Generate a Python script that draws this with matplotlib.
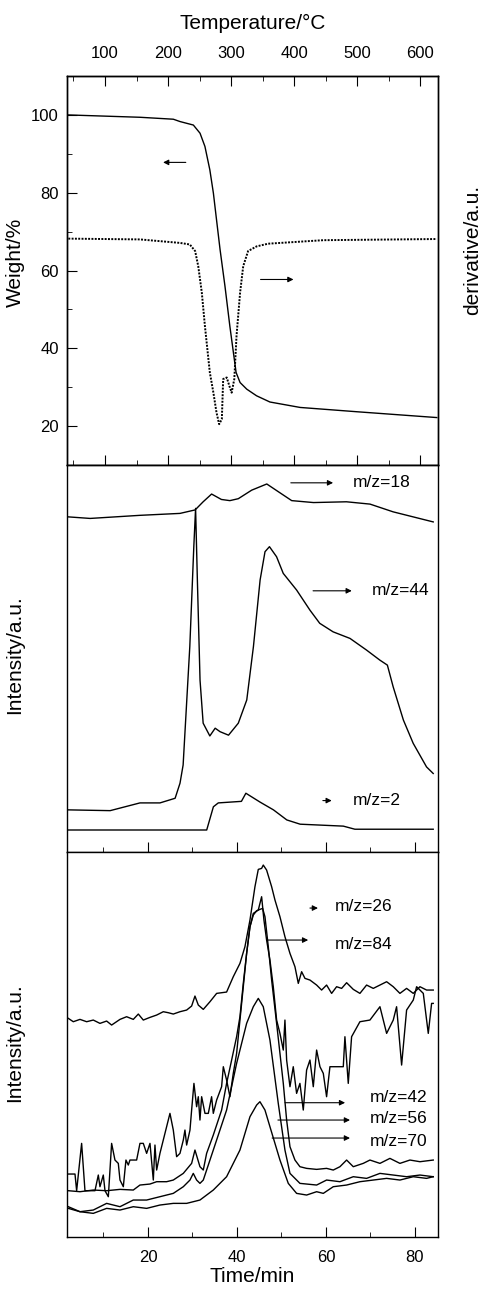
import matplotlib
matplotlib.use("Agg")
import matplotlib.pyplot as plt
from matplotlib.ticker import MultipleLocator, FixedLocator

plt.rcParams['font.family'] = ['Liberation Sans', 'DejaVu Sans']

# ---- TG / DTG (top panel) ----
t_w = [2.1, 18.2, 25.7, 27.2, 30.2, 31.7, 32.8, 33.9, 34.7, 35.4, 36.2, 37.3, 38.4, 39.2, 39.8, 40.7, 42.2, 44.4,
       47.4, 54.2, 66.9, 84.9]
weight = [100.0, 99.4, 98.9, 98.3, 97.4, 95.3, 91.9, 85.9, 79.9, 73.1, 65.4, 56.0, 45.7, 38.9, 33.8, 31.2, 29.5, 27.8,
          26.2, 24.8, 23.7, 22.2]

t_d = [2.1, 18.2, 27.2, 29.4, 30.6, 31.3, 32.1, 32.8, 33.9, 34.7, 35.4, 36.0, 36.6, 36.9, 37.7, 38.3, 38.8, 39.4,
       39.9, 40.7, 41.4, 42.5, 44.4, 47.0, 59.4, 84.9]
deriv = [68.2, 68.0, 67.1, 66.7, 65.0, 61.1, 54.3, 45.7, 33.8, 28.6, 23.5, 20.5, 21.8, 32.1, 32.5, 30.3, 28.6, 32.1,
         43.2, 54.3, 61.1, 65.0, 66.2, 66.9, 67.8, 68.1]

temp_major = [100, 200, 300, 400, 500, 600]
temp_minor = [50, 150, 250, 350, 450, 550]

# ---- MS, middle panel ----
t18 = [2.1, 7.0, 18.2, 27.2, 30.6, 32.4, 34.3, 36.5, 38.4, 40.3, 43.3, 46.7, 49.3, 52.3, 57.2, 64.6, 69.9, 75.1, 79.6,
       84.1]
i18 = [86.6, 86.2, 87.0, 87.5, 88.4, 90.5, 92.5, 91.1, 90.8, 91.3, 93.5, 95.1, 93.1, 90.8, 90.3, 90.5, 89.9, 87.9, 86.6,
       85.3]

t44 = [2.1, 11.5, 18.2, 22.7, 26.1, 27.2, 27.9, 29.4, 30.3, 30.7, 31.1, 31.7, 32.4, 33.9, 35.1, 36.2, 38.1, 40.3,
       42.2, 43.7, 45.2, 46.3, 47.3, 48.9, 50.4, 53.4, 56.4, 58.6, 61.6, 65.4, 69.1, 72.1, 73.8, 75.1, 77.4, 79.6,
       82.6, 84.1]
i44 = [10.9, 10.7, 12.7, 12.7, 13.9, 17.8, 22.5, 53.1, 78.9, 88.8, 70.3, 44.4, 33.3, 30.0, 32.0, 31.1, 30.2, 33.3,
       39.3, 53.1, 70.3, 77.6, 78.9, 76.3, 72.0, 67.7, 62.5, 59.1, 56.9, 55.2, 52.2, 49.6, 48.3, 42.7, 34.1, 28.1,
       22.0, 20.3]

t2 = [2.1, 33.2, 34.7, 35.8, 41.0, 42.0, 45.2, 48.2, 51.2, 54.2, 63.9, 66.5, 84.1]
i2 = [5.7, 5.7, 11.7, 12.7, 13.1, 15.2, 12.9, 10.9, 8.3, 7.2, 6.7, 5.9, 5.9]

# ---- MS, bottom panel ----
t26 = [2.10, 3.22, 4.72, 6.22, 7.71, 9.21, 10.71, 11.83, 13.71, 15.20, 16.70, 17.83, 18.95, 20.45, 21.95, 23.44, 24.57,
       25.69, 27.19, 28.69, 29.81, 30.56, 31.31, 32.43, 33.93, 35.43, 36.55, 37.67, 39.17, 40.67, 41.79, 42.92, 44.04,
       44.79, 45.54, 45.91, 46.66, 47.79, 48.54, 49.66, 50.78, 51.91, 53.03, 53.78, 54.53, 55.28, 56.40, 57.90, 59.02,
       60.14, 61.27, 62.39, 63.52, 64.64, 66.14, 67.63, 69.13, 70.63, 72.13, 73.63, 75.12, 76.62, 78.12, 79.62, 81.12,
       82.61, 84.11]
i26 = [65.5, 64.5, 65.2, 64.5, 65.0, 64.0, 64.7, 63.5, 65.2, 66.0, 65.2, 66.8, 65.0, 65.8, 66.5, 67.5, 67.2,
       66.8, 67.5, 68.0, 69.2, 72.2, 69.5, 68.2, 70.5, 73.0, 73.2, 73.4, 78.0, 82.0, 87.0, 95.0, 105.0,
       110.2, 110.5, 111.5, 110.0, 105.0, 101.0, 96.0, 90.0, 85.0, 81.0, 76.0, 79.5, 77.5, 77.0, 75.5, 74.0,
       75.5, 73.0, 75.0, 74.5, 76.2, 74.2, 73.0, 75.5, 74.5, 75.5, 76.5, 75.0, 73.0, 74.5, 73.0, 75.0,
       74.0, 74.0]

t84 = [2.10, 3.60, 3.97, 5.09, 5.84, 8.09, 8.84, 9.21, 9.96, 10.34, 11.09, 11.83, 12.58, 13.33, 13.71, 14.46, 15.05,
       15.58, 15.95, 17.45, 18.20, 18.95, 19.70, 20.45, 21.20, 21.57, 21.95, 22.69, 24.19, 24.94, 25.69, 26.44, 27.19,
       27.94, 28.31, 28.69, 29.44, 29.81, 30.33, 30.93, 31.31, 31.68, 32.06, 32.81, 33.56, 34.30, 34.68, 35.43, 36.55,
       36.93, 37.67, 38.42, 39.17, 39.92, 40.67, 41.42, 42.17, 42.92, 43.67, 44.79, 45.54, 46.06, 46.66, 47.41, 48.16,
       48.91, 49.66, 50.41, 50.78, 51.16, 51.91, 52.65, 53.40, 54.15, 54.90, 55.65, 56.40, 57.15, 57.90, 58.65, 59.40,
       60.14, 60.89, 63.89, 64.26, 65.01, 65.76, 67.63, 69.88, 72.13, 73.63, 75.12, 75.87, 77.00, 78.12, 79.62, 80.37,
       81.87, 82.99, 83.74, 84.11]
i84 = [18.8, 18.8, 13.8, 28.0, 13.8, 13.8, 18.5, 15.0, 18.5, 13.8, 12.0, 28.0, 23.0, 22.0, 17.0, 15.0, 23.0,
       21.5, 23.0, 23.0, 28.0, 28.0, 25.0, 28.0, 17.0, 27.5, 20.0, 25.0, 33.0, 37.0, 32.0, 24.0, 25.0,
       29.0, 32.0, 27.5, 32.0, 38.0, 46.0, 39.0, 42.0, 35.0, 42.0, 37.0, 37.0, 42.0, 37.0, 41.0, 45.0,
       51.0, 47.0, 42.0, 49.0, 55.0, 65.0, 75.0, 85.0, 93.0, 97.0, 98.0, 102.0, 95.0, 89.0, 83.0, 75.0,
       65.0, 61.0, 56.0, 65.0, 53.0, 45.0, 51.0, 43.0, 46.0, 38.0, 50.0, 53.0, 45.0, 56.0, 51.0, 49.0,
       42.0, 51.0, 51.0, 60.0, 46.0, 60.0, 64.5, 65.0, 69.0, 61.0, 65.0, 69.0, 51.5, 68.0, 71.0, 75.0,
       73.0, 61.0, 70.0, 70.0]

t42 = [2.10, 4.72, 7.71, 10.71, 13.71, 16.70, 18.20, 20.45, 21.95, 24.19, 25.69, 27.94, 29.81, 30.56, 31.68, 32.43,
       33.18, 34.68, 36.55, 37.67, 38.80, 39.92, 40.67, 41.42, 42.17, 42.92, 43.67, 44.42, 45.16, 45.76, 46.29, 47.04,
       47.79, 48.91, 49.66, 50.41, 51.16, 51.91, 53.03, 54.15, 55.65, 57.90, 60.14, 61.64, 63.14, 64.64, 66.14, 68.38,
       69.88, 72.13, 74.37, 76.62, 78.87, 81.12, 84.11]
i42 = [13.8, 13.5, 14.0, 13.8, 14.2, 14.0, 15.5, 15.8, 16.5, 16.5, 17.0, 19.0, 22.0, 26.0, 21.0, 20.0,
       25.0, 30.5, 38.0, 46.0, 53.0, 60.0, 66.0, 76.0, 85.0, 93.0, 96.5, 97.8, 98.2, 98.5, 96.0, 87.0,
       77.0, 64.0, 55.0, 46.0, 35.0, 27.0, 23.0, 21.0, 20.5, 20.2, 20.5, 20.0, 21.0, 23.0, 21.0, 22.0,
       23.0, 22.0, 23.5, 22.0, 23.0, 22.5, 23.0]

t56 = [2.10, 4.72, 7.71, 10.71, 13.71, 16.70, 19.70, 22.69, 25.69, 27.94, 29.44, 30.18, 30.93, 31.68, 32.43, 34.68,
       37.67, 39.92, 42.17, 43.67, 44.79, 45.91, 47.41, 49.28, 50.78, 51.91, 54.15, 57.90, 60.14, 63.14, 66.14, 69.13,
       72.13, 75.12, 78.12, 81.12, 84.11]
i56 = [8.5, 7.5, 8.0, 10.0, 9.0, 11.0, 11.0, 12.0, 13.0, 15.0, 17.0, 19.0, 17.0, 16.0, 17.0, 26.0,
       38.0, 52.0, 64.0, 69.0, 71.5, 69.0, 59.0, 40.0, 26.0, 19.0, 16.0, 15.5, 17.0, 16.5, 18.0, 17.5,
       19.0, 18.5, 18.0, 18.5, 18.0]

t70 = [2.10, 4.72, 7.71, 10.71, 13.71, 16.70, 19.70, 22.69, 25.69, 28.69, 31.68, 34.68, 37.67, 40.67, 42.92, 44.42,
       45.16, 46.29, 47.41, 49.66, 51.53, 53.40, 55.65, 57.90, 59.40, 61.64, 64.64, 67.63, 70.63, 73.63, 76.62, 79.62,
       82.61, 84.11]
i70 = [9.0, 7.5, 7.0, 8.5, 8.0, 9.0, 8.5, 9.5, 10.0, 10.0, 11.0, 14.0, 18.0, 26.0, 36.0, 39.5,
       40.5, 38.0, 33.0, 23.0, 16.0, 13.0, 12.5, 13.5, 13.0, 15.0, 15.5, 16.5, 17.0, 17.5, 17.0, 18.0,
       17.5, 18.0]


def t2T(t):
    return 27.0 + 7.06 * t


def T2t(T):
    return (T - 27.0) / 7.06


def arrow(ax, x0, x1, y):
    ax.annotate('', xy=(x1, y), xytext=(x0, y),
                arrowprops=dict(arrowstyle='-|>', color='k', lw=0.8,
                                mutation_scale=8, shrinkA=0, shrinkB=0))


fig = plt.figure(figsize=(4.84, 12.91), dpi=100)
L, W = 0.1384, 0.7665
ax1 = fig.add_axes([L, 0.6398, W, 0.3013])
ax2 = fig.add_axes([L, 0.3400, W, 0.2998])
ax3 = fig.add_axes([L, 0.0418, W, 0.2982])

xlim = (1.8, 85.17)
lw = 1.0

# top panel
ax1.plot(t_w, weight, color='k', lw=lw)
axd = ax1.twinx()
axd.plot(t_d, deriv, color='k', lw=1.4, linestyle=(0, (1, 0.7)))
axd.set_ylim(10, 110)
axd.set_yticks([])
ax1.set_xlim(*xlim)
ax1.set_ylim(10, 110)
ax1.yaxis.set_major_locator(MultipleLocator(20))
ax1.yaxis.set_minor_locator(MultipleLocator(10))
ax1.tick_params(axis='y', which='both', direction='in', right=False, labelsize=12, pad=6)
ax1.tick_params(axis='y', which='major', length=7)
ax1.tick_params(axis='y', which='minor', length=3.5)
ax1.tick_params(axis='x', which='both', bottom=False, top=False, labelbottom=False)

sec_top = ax1.secondary_xaxis('top', functions=(t2T, T2t))
sec_bot = ax1.secondary_xaxis('bottom', functions=(t2T, T2t))
for sx in (sec_top, sec_bot):
    sx.xaxis.set_major_locator(FixedLocator(temp_major))
    sx.xaxis.set_minor_locator(FixedLocator(temp_minor))
    sx.tick_params(which='major', direction='in', length=7)
    sx.tick_params(which='minor', direction='in', length=3.5)
sec_top.tick_params(labelsize=12, pad=11)
sec_bot.tick_params(labelbottom=False)
sec_top.set_xlabel('Temperature/°C', fontsize=15, labelpad=12)

arrow(ax1, 28.5, 23.4, 87.8)
arrow(ax1, 45.3, 52.7, 57.7)

# middle panel
ax2.plot(t18, i18, color='k', lw=lw)
ax2.plot(t44, i44, color='k', lw=lw)
ax2.plot(t2, i2, color='k', lw=lw)
ax2.set_xlim(*xlim)
ax2.set_ylim(0, 100)
ax2.set_yticks([])
ax2.xaxis.set_major_locator(MultipleLocator(20))
ax2.xaxis.set_minor_locator(MultipleLocator(10))
ax2.tick_params(axis='x', which='both', direction='in', top=False, labelbottom=False)
ax2.tick_params(axis='x', which='major', length=7)
ax2.tick_params(axis='x', which='minor', length=3.5)

arrow(ax2, 52.1, 61.6, 95.4)
ax2.text(66.1, 95.4, 'm/z=18', fontsize=12.5, va='center')
arrow(ax2, 57.1, 65.8, 67.5)
ax2.text(70.3, 67.5, 'm/z=44', fontsize=12.5, va='center')
arrow(ax2, 59.3, 61.3, 13.3)
ax2.text(66.1, 13.3, 'm/z=2', fontsize=12.5, va='center')

# bottom panel
for tt, ii in ((t26, i26), (t84, i84), (t42, i42), (t56, i56), (t70, i70)):
    ax3.plot(tt, ii, color='k', lw=lw)
ax3.set_xlim(*xlim)
ax3.set_ylim(-0.1, 115.4)
ax3.set_yticks([])
ax3.xaxis.set_major_locator(MultipleLocator(20))
ax3.xaxis.set_minor_locator(MultipleLocator(10))
ax3.tick_params(axis='x', which='both', direction='in', top=False, labelsize=12, pad=9)
ax3.tick_params(axis='x', which='major', length=7)
ax3.tick_params(axis='x', which='minor', length=3.5)
ax3.set_xlabel('Time/min', fontsize=15, labelpad=2)

arrow(ax3, 56.4, 58.2, 98.6)
ax3.text(62.0, 99.2, 'm/z=26', fontsize=12.5, va='center')
arrow(ax3, 46.7, 56.0, 89.0)
ax3.text(62.0, 87.8, 'm/z=84', fontsize=12.5, va='center')
arrow(ax3, 50.8, 64.3, 40.2)
ax3.text(69.9, 41.9, 'm/z=42', fontsize=12.5, va='center')
arrow(ax3, 49.2, 65.4, 35.0)
ax3.text(69.9, 35.6, 'm/z=56', fontsize=12.5, va='center')
arrow(ax3, 47.9, 65.4, 29.6)
ax3.text(69.9, 28.7, 'm/z=70', fontsize=12.5, va='center')

for ax in (ax1, ax2, ax3, axd):
    for s in ax.spines.values():
        s.set_linewidth(1.0)

fig.text(15 / 484, 1 - 262 / 1291, 'Weight/%', rotation=90, fontsize=15, ha='center', va='center')
fig.text(15 / 484, 1 - 655 / 1291, 'Intensity/a.u.', rotation=90, fontsize=15, ha='center', va='center')
fig.text(15 / 484, 1 - 1043 / 1291, 'Intensity/a.u.', rotation=90, fontsize=15, ha='center', va='center')
fig.text(473 / 484, 1 - 250 / 1291, 'derivative/a.u.', rotation=90, fontsize=15, ha='center', va='center')

fig.savefig('out.png', dpi=100)
